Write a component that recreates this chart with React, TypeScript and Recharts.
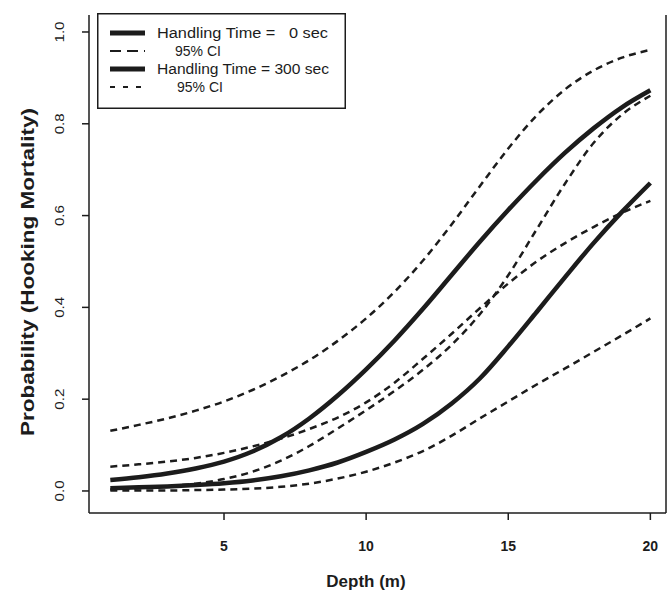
import { LineChart, Line, XAxis, YAxis, Label } from 'recharts';

// depth (m) on the x axis
const depth = [1, 2, 3, 4, 5, 6, 7, 8, 9, 10, 11, 12, 13, 14, 15, 16, 17, 18, 19, 20];

// handling time = 0 sec
const mean0 = [0.024, 0.030, 0.038, 0.049, 0.064, 0.086, 0.117, 0.158, 0.208, 0.265, 0.328, 0.397, 0.470, 0.543, 0.612, 0.677, 0.737, 0.790, 0.836, 0.873];
const upper0 = [0.131, 0.144, 0.158, 0.175, 0.195, 0.220, 0.250, 0.285, 0.327, 0.376, 0.434, 0.502, 0.580, 0.664, 0.746, 0.818, 0.875, 0.916, 0.944, 0.961];
const lower0 = [0.004, 0.006, 0.010, 0.016, 0.026, 0.042, 0.066, 0.098, 0.136, 0.176, 0.218, 0.264, 0.318, 0.385, 0.470, 0.570, 0.670, 0.758, 0.820, 0.861];

// handling time = 300 sec
const mean300 = [0.006, 0.008, 0.010, 0.013, 0.017, 0.023, 0.032, 0.045, 0.062, 0.085, 0.112, 0.146, 0.190, 0.245, 0.315, 0.390, 0.466, 0.540, 0.608, 0.671];
const upper300 = [0.053, 0.058, 0.064, 0.072, 0.083, 0.097, 0.114, 0.135, 0.160, 0.193, 0.236, 0.288, 0.342, 0.398, 0.452, 0.500, 0.540, 0.575, 0.606, 0.632];
const lower300 = [0.001, 0.001, 0.001, 0.002, 0.003, 0.005, 0.009, 0.016, 0.027, 0.042, 0.062, 0.087, 0.120, 0.158, 0.195, 0.232, 0.267, 0.303, 0.339, 0.376];

const xTicks = [5, 10, 15, 20];
const yTicks = [0, 0.2, 0.4, 0.6, 0.8, 1.0];

const data = depth.map((d, i) => ({
  depth: d,
  mean0: mean0[i],
  upper0: upper0[i],
  lower0: lower0[i],
  mean300: mean300[i],
  upper300: upper300[i],
  lower300: lower300[i],
}));

const FONT = 'Liberation Sans, Arial, sans-serif';
const INK = '#1c1c1c';

function YTick({ x, y, payload }: any) {
  const bx = x - 14;
  return (
    <text
      transform={`translate(${bx},${y}) rotate(-90)`}
      textAnchor="middle"
      fontFamily={FONT}
      fontSize={13}
      fill={INK}
      textLength={21}
      lengthAdjust="spacingAndGlyphs"
    >
      {payload.value.toFixed(1)}
    </text>
  );
}

function XTick({ x, y, payload }: any) {
  return (
    <text x={x} y={y} dy="0.71em" textAnchor="middle" fontFamily={FONT} fontSize={14} fontWeight="bold" fill={INK}>
      {payload.value}
    </text>
  );
}

function ChartLegend() {
  const rows = [
    { label: 'Handling Time =   0 sec', dash: undefined, width: 5, tx: 60, len: 171 },
    { label: '95% CI', dash: '11 6', width: 2, tx: 78, len: undefined },
    { label: 'Handling Time = 300 sec', dash: undefined, width: 5, tx: 60, len: 172 },
    { label: '95% CI', dash: '5 8', width: 2, tx: 80, len: undefined },
  ];
  return (
    <svg
      width={249}
      height={96}
      style={{ position: 'absolute', left: 97, top: 13, pointerEvents: 'none' }}
    >
      <rect x={0.75} y={0.75} width={247.5} height={94.5} fill="#fff" stroke={INK} strokeWidth={1.5} />
      {rows.map((r, i) => {
        const cy = 20 + i * 18;
        return (
          <g key={i}>
            <line x1={13} x2={48} y1={cy} y2={cy} stroke={INK} strokeWidth={r.width} strokeDasharray={r.dash} />
            <text
              x={r.tx}
              y={cy + 5}
              fontFamily={FONT}
              fontSize={14}
              fill={INK}
              textLength={r.len}
              lengthAdjust={r.len ? 'spacingAndGlyphs' : undefined}
              style={{ whiteSpace: 'pre' }}
            >
              {r.label}
            </text>
          </g>
        );
      })}
    </svg>
  );
}

export default function App() {
  return (
    <div style={{ position: 'relative', width: 668, height: 594, background: '#fff' }}>
      <style>{'body{margin:0}'}</style>
      <LineChart width={668} height={594} data={data} margin={{ top: 15, right: 0, bottom: 0, left: 0 }}>
        <XAxis
          dataKey="depth"
          type="number"
          domain={[0.25, 20.55]}
          ticks={xTicks}
          allowDataOverflow
          height={81}
          tickSize={7}
          tickMargin={21}
          stroke={INK}
          strokeWidth={1.5}
          tick={<XTick />}
        >
          <Label
            content={() => (
              <text x={366} y={587} textAnchor="middle" fontFamily={FONT} fontSize={17} fontWeight="bold" fill={INK}>
                Depth (m)
              </text>
            )}
          />
        </XAxis>
        <XAxis xAxisId="top" orientation="top" dataKey="depth" type="number" domain={[0.25, 20.55]} allowDataOverflow height={0} tick={false} tickLine={false} stroke={INK} strokeWidth={1.5} />
        <YAxis
          type="number"
          domain={[-0.048, 1.037]}
          ticks={yTicks}
          allowDataOverflow
          width={89}
          tickSize={7}
          tickMargin={4}
          stroke={INK}
          strokeWidth={1.5}
          tick={<YTick />}
        >
          <Label
            content={() => (
              <text
                transform="translate(34,272) rotate(-90)"
                textAnchor="middle"
                fontFamily={FONT}
                fontSize={18}
                fontWeight="bold"
                fill={INK}
                textLength={328}
                lengthAdjust="spacingAndGlyphs"
              >
                Probability (Hooking Mortality)
              </text>
            )}
          />
        </YAxis>
        <YAxis yAxisId="right" orientation="right" type="number" domain={[-0.048, 1.037]} allowDataOverflow width={2} tick={false} tickLine={false} stroke={INK} strokeWidth={1.5} />
        <Line dataKey="upper0" type="monotone" stroke={INK} strokeWidth={2.5} strokeDasharray="7 5" dot={false} isAnimationActive={false} />
        <Line dataKey="lower0" type="monotone" stroke={INK} strokeWidth={2.5} strokeDasharray="7 5" dot={false} isAnimationActive={false} />
        <Line dataKey="upper300" type="monotone" stroke={INK} strokeWidth={2.5} strokeDasharray="7 5" dot={false} isAnimationActive={false} />
        <Line dataKey="lower300" type="monotone" stroke={INK} strokeWidth={2.5} strokeDasharray="7 5" dot={false} isAnimationActive={false} />
        <Line dataKey="mean0" type="monotone" stroke={INK} strokeWidth={4.5} dot={false} isAnimationActive={false} />
        <Line dataKey="mean300" type="monotone" stroke={INK} strokeWidth={4.5} dot={false} isAnimationActive={false} />
      </LineChart>
      <ChartLegend />
    </div>
  );
}
